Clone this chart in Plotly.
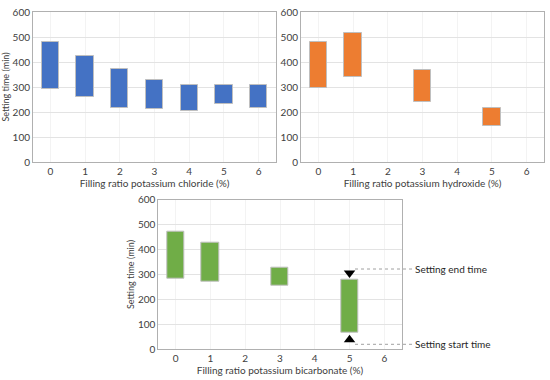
import plotly.graph_objects as go

ratios = [0, 1, 2, 3, 4, 5, 6]

kcl_start = [292, 260, 216, 213, 205, 233, 216]
kcl_end = [479, 425, 372, 329, 308, 307, 309]

koh_start = [295, 340, None, 241, None, 144, None]
koh_end = [480, 516, None, 367, None, 217, None]

khco3_start = [285, 270, None, 254, None, 67, None]
khco3_end = [473, 428, None, 329, None, 278, None]

x_titles = ["Filling ratio potassium chloride (%)",
            "Filling ratio potassium hydroxide (%)",
            "Filling ratio potassium bicarbonate (%)"]
y_title = "Setting time (min)"
colors = ["#4472C4", "#ED7D31", "#70AD47"]

marker_end_y = 306
marker_start_y = 38
legend_end_y = 322
legend_start_y = 20
legend_labels = ["Setting end time", "Setting start time"]

FONT = "Lato"
W, H = 550, 380

fig = go.Figure()

def heights(s, e):
    return [None if a is None else b - a for a, b in zip(s, e)]

series = [(kcl_start, kcl_end), (koh_start, koh_end), (khco3_start, khco3_end)]
axes = [("x", "y"), ("x2", "y2"), ("x3", "y3")]
for i, ((s, e), (xa, ya)) in enumerate(zip(series, axes)):
    fig.add_trace(go.Bar(x=ratios, y=heights(s, e), base=s, width=0.5,
                         marker=dict(color=colors[i], line=dict(color="#bfbfbf", width=1)),
                         xaxis=xa, yaxis=ya, showlegend=False))

fig.add_trace(go.Scatter(x=[5], y=[marker_end_y], mode="markers",
                         marker=dict(symbol="triangle-down", size=10, color="black"),
                         xaxis="x3", yaxis="y3", showlegend=False))
fig.add_trace(go.Scatter(x=[5], y=[marker_start_y], mode="markers",
                         marker=dict(symbol="triangle-up", size=10, color="black"),
                         xaxis="x3", yaxis="y3", showlegend=False))

def px_x(a):
    return a / W

def px_dom_x(a, b):
    return [px_x(a), px_x(b)]

def px_dom_y(top, bottom):
    return [1 - bottom / H, 1 - top / H]

doms = [
    (px_dom_x(33, 276), px_dom_y(12, 162)),
    (px_dom_x(301, 544), px_dom_y(12, 162)),
    (px_dom_x(158.3, 401.7), px_dom_y(199.7, 349.3)),
]

axfont = dict(family=FONT, size=10, color="#404040")
titlefont = dict(family=FONT, size=10, color="#404040")
layout = dict(
    width=W, height=H, margin=dict(l=0, r=0, t=0, b=0, autoexpand=False),
    paper_bgcolor="white", plot_bgcolor="white",
    font=dict(family=FONT, size=10, color="#404040"),
    bargap=0,
)
for i, (dx, dy) in enumerate(doms):
    sfx = "" if i == 0 else str(i + 1)
    layout["xaxis" + sfx] = dict(
        domain=dx, range=[-0.5, 6.5], anchor="y" + sfx, automargin=False,
        tickmode="array", tickvals=ratios, ticktext=[str(r) for r in ratios],
        showgrid=True, gridcolor="#f3f3f3", gridwidth=1,
        showline=True, linecolor="#b0b0b0", linewidth=1, mirror=True,
        ticks="", tickfont=axfont, zeroline=False,
        title=dict(text=x_titles[i], font=titlefont, standoff=3),
    )
    layout["yaxis" + sfx] = dict(
        domain=dy, range=[0, 600], anchor="x" + sfx, dtick=100, automargin=False,
        ticklabeloverflow="allow",
        showgrid=True, gridcolor="#e3e3e3", gridwidth=1,
        showline=True, linecolor="#b0b0b0", linewidth=1, mirror=True,
        ticks="", tickfont=axfont, zeroline=False,
        title=dict(text=y_title if i != 1 else "", font=dict(family=FONT, size=9, color="#404040"), standoff=1),
    )
fig.update_layout(**layout)

x_line0 = px_x(355)
x_line1 = px_x(413)
for yv, lab in zip([legend_end_y, legend_start_y], legend_labels):
    fig.add_shape(type="line", xref="paper", yref="y3", x0=x_line0, x1=x_line1, y0=yv, y1=yv,
                  line=dict(color="#a0a0a0", width=1, dash="dot"))
    fig.add_annotation(xref="paper", yref="y3", x=x_line1, y=yv, text=lab, showarrow=False,
                       xanchor="left", yanchor="middle", font=dict(family=FONT, size=10, color="#262626"))

fig.write_html("out.html", config={"displayModeBar": False},
               post_script="document.body.style.margin='0px';")
